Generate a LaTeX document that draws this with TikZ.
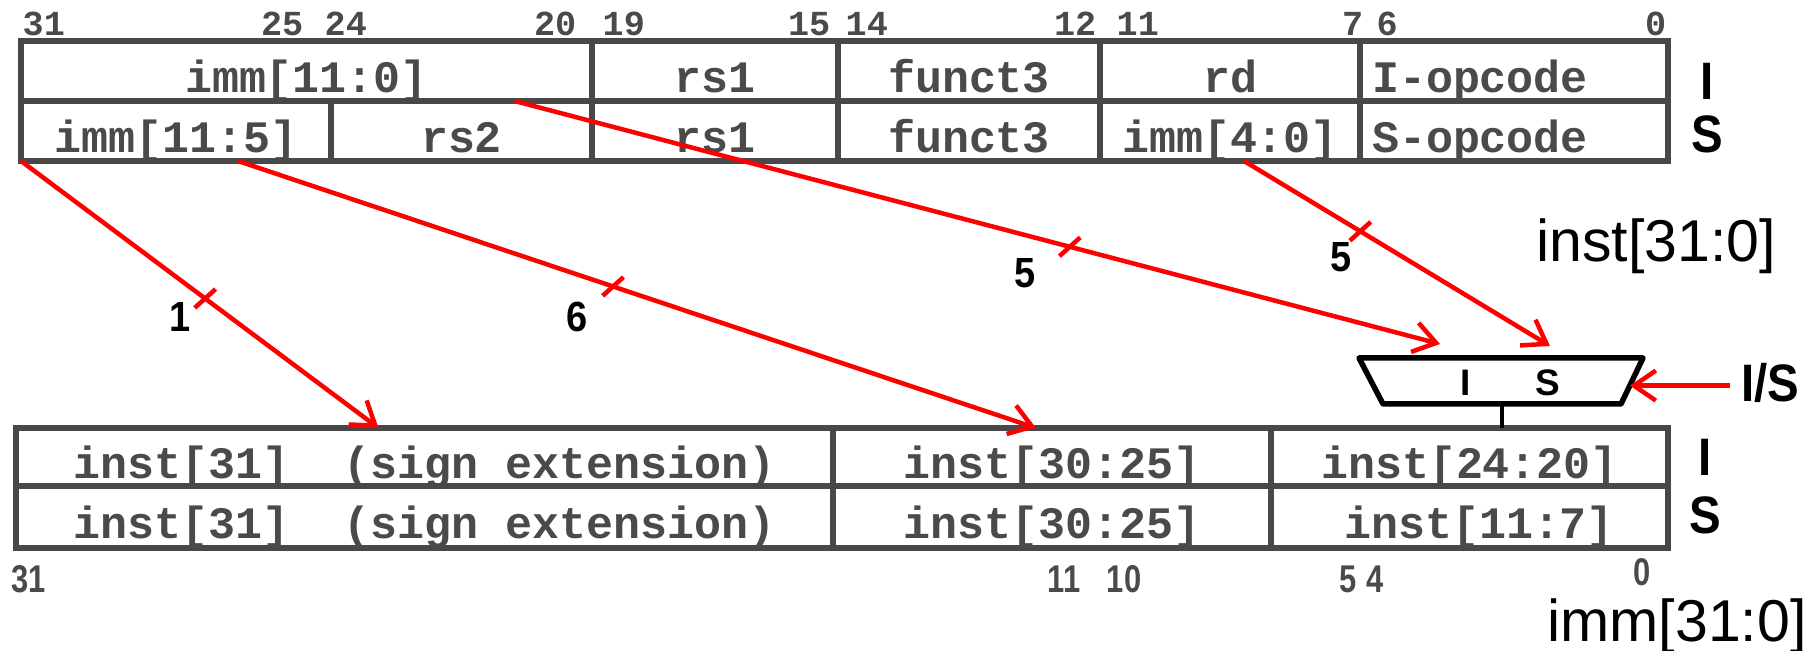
\documentclass[tikz,border=0pt]{standalone}
\usepackage{fontspec}
\setmainfont{Liberation Sans}
\newfontfamily\courier{Liberation Mono}
\newfontfamily\narrowsans[FakeStretch=0.8]{Liberation Sans}
\newfontfamily\tagsans[FakeStretch=0.9]{Liberation Sans}
\usetikzlibrary{arrows.meta,calc}

\definecolor{boxgray}{RGB}{72,72,72}
\definecolor{txtgray}{RGB}{74,74,74}

\newcommand\fieldfont{\courier\bfseries\fontsize{12.8}{14}\selectfont}
\newcommand\bitfont{\courier\bfseries\fontsize{10}{11}\selectfont}
\newcommand\lowbitfont{\narrowsans\bfseries\fontsize{11}{12}\selectfont}
\newcommand\tagfont{\tagsans\bfseries\fontsize{15}{16}\selectfont}
\newcommand\nbitsfont{\tagsans\bfseries\fontsize{12}{13}\selectfont}
\newcommand\busfont{\fontsize{16.8}{18}\selectfont}

\tikzset{
  field/.style={draw=boxgray, line width=0.65mm, anchor=north west, inner sep=0pt, outer sep=0pt,
    minimum height=6mm, text=txtgray, font=\fieldfont, text height=13.5pt, text depth=1.5pt},
  bit/.style={text=txtgray, font=\bitfont, inner sep=0pt},
  lowbit/.style={text=txtgray, font=\lowbitfont, inner sep=0pt, anchor=base},
  rowtag/.style={font=\tagfont, inner sep=0pt, anchor=base},
  nbits/.style={font=\nbitsfont, inner sep=0pt},
  wire/.style={red, line width=0.45mm, -{Straight Barb[length=2.2mm,width=3mm]}},
  slash/.style={fill=red, inner sep=0pt, minimum width=0.45mm, minimum height=2.8mm, rotate=-48},
  mux/.style={black, line width=0.55mm, line join=round},
}

\begin{document}
\begin{tikzpicture}[x=1mm, y=-1mm]
  \useasboundingbox (0,0) rectangle (182,65.1);

  % bit positions, instruction
  \node[bit, anchor=base west] (b31) at (2.2,3.6) {31};
  \node[bit, anchor=base east] (b25) at (30.4,3.6) {25};
  \node[bit, anchor=base west] (b24) at (32.4,3.6) {24};
  \node[bit, anchor=base east] (b20) at (57.7,3.6) {20};
  \node[bit, anchor=base west] (b19) at (60.2,3.6) {19};
  \node[bit, anchor=base east] (b15) at (83.1,3.6) {15};
  \node[bit, anchor=base west] (b14) at (84.5,3.6) {14};
  \node[bit, anchor=base east] (b12) at (109.7,3.6) {12};
  \node[bit, anchor=base west] (b11) at (111.6,3.6) {11};
  \node[bit, anchor=base east] (b7) at (136.4,3.6) {7};
  \node[bit, anchor=base west] (b6) at (137.6,3.6) {6};
  \node[bit, anchor=base east] (b0) at (166.7,3.6) {0};

  % I-type
  \node[field, minimum width=57.1mm] (immI) at (2.1,4.1) {imm[11:0]};
  \node[field, minimum width=24.6mm] (rs1I) at (59.2,4.1) {rs1};
  \node[field, minimum width=26.2mm] (fnI) at (83.8,4.1) {funct3};
  \node[field, minimum width=26mm] (rdI) at (110,4.1) {rd};
  \node[field, text width=28.4mm, align=left, inner xsep=1.2mm] (opI) at (136,4.1) {I-opcode};

  % S-type
  \node[field, minimum width=31mm] (immS) at (2.1,10.1) {imm[11:5]};
  \node[field, minimum width=26.1mm] (rs2S) at (33.1,10.1) {rs2};
  \node[field, minimum width=24.6mm] (rs1S) at (59.2,10.1) {rs1};
  \node[field, minimum width=26.2mm] (fnS) at (83.8,10.1) {funct3};
  \node[field, minimum width=26mm] (immlo) at (110,10.1) {imm[4:0]};
  \node[field, text width=28.4mm, align=left, inner xsep=1.2mm] (opS) at (136,10.1) {S-opcode};

  \node[rowtag] (tI) at (170.7,10.0) {I};
  \node[rowtag] (tS) at (170.7,15.3) {S};
  \node[font=\busfont, inner sep=0pt, anchor=base] (instbus) at (165.6,26.2) {inst[31:0]};

  % immediate
  \node[field, minimum width=81.7mm, minimum height=5.8mm] (sextI) at (1.6,42.8) {inst[31]\ \ (sign extension)};
  \node[field, minimum width=43.8mm, minimum height=5.8mm] (hiI) at (83.3,42.8) {inst[30:25]};
  \node[field, minimum width=39.7mm, minimum height=5.8mm] (loI) at (127.1,42.8) {inst[24:20]};
  \node[field, minimum width=81.7mm, minimum height=6.2mm] (sextS) at (1.6,48.6) {inst[31]\ \ (sign extension)};
  \node[field, minimum width=43.8mm, minimum height=6.2mm] (hiS) at (83.3,48.6) {inst[30:25]};
  \node[field, text width=28.9mm, align=right, inner xsep=5.4mm, minimum height=6.2mm] (loS) at (127.1,48.6) {inst[11:7]};

  \node[rowtag] (tI2) at (170.5,47.6) {I};
  \node[rowtag] (tS2) at (170.5,53.4) {S};

  \node[lowbit] (c31) at (2.9,59.3) {31};
  \node[lowbit] (c11) at (106.4,59.3) {11};
  \node[lowbit] (c10) at (112.4,59.3) {10};
  \node[lowbit] (c5) at (134.8,59.3) {5};
  \node[lowbit] (c4) at (137.5,59.3) {4};
  \node[lowbit] (c0) at (164.2,58.6) {0};
  \node[font=\busfont, inner sep=0pt, anchor=base] (immbus) at (167.7,64.2) {imm[31:0]};

  % mux
  \coordinate (mtl) at (135.9,35.8);
  \coordinate (mtr) at (164.3,35.8);
  \coordinate (mbr) at (162.1,40.4);
  \coordinate (mbl) at (138.3,40.4);
  \draw[mux] (mtl) -- (mtr) -- (mbr) -- (mbl) -- cycle;
  \node[font=\bfseries\fontsize{10.5}{12}\selectfont, inner sep=0pt] (mI) at (146.6,38.3) {I};
  \node[font=\bfseries\fontsize{10.5}{12}\selectfont, inner sep=0pt] (mS) at (154.8,38.3) {S};
  \coordinate (mout) at ($(mbl)!0.5!(mbr)$);
  \coordinate (inI) at (144,34.4);
  \coordinate (inS) at (155,34.6);
  \coordinate (msel) at ($(mtr)!0.6!(mbr)$);
  \draw[line width=0.45mm] (mout) -- (mout |- loI.north);

  \node[rowtag] (sel) at (177,40.2) {I/S};
  \draw[wire, shorten <=1mm] (sel.west |- msel) -- (msel);

  % red wires
  \draw[wire] (immS.south west) -- node[slash, pos=0.515] (t1) {} ([xshift=-4.6mm]sextI.north);
  \draw[wire] ([xshift=6.2mm]immS.south) -- node[slash, pos=0.47] (t6) {} ([xshift=-1.6mm]hiI.north);
  \draw[wire] ([xshift=20.8mm]immI.south) -- node[slash, pos=0.6] (t5a) {} (inI);
  \draw[wire] ([xshift=1.4mm]immlo.south) -- node[slash, pos=0.38] (t5b) {} (inS);

  \node[nbits] (n1) at (18,31.7) {1};
  \node[nbits] (n6) at (57.7,31.7) {6};
  \node[nbits] (n5a) at (102.5,27.3) {5};
  \node[nbits] (n5b) at (134.1,25.7) {5};
\end{tikzpicture}
\end{document}
